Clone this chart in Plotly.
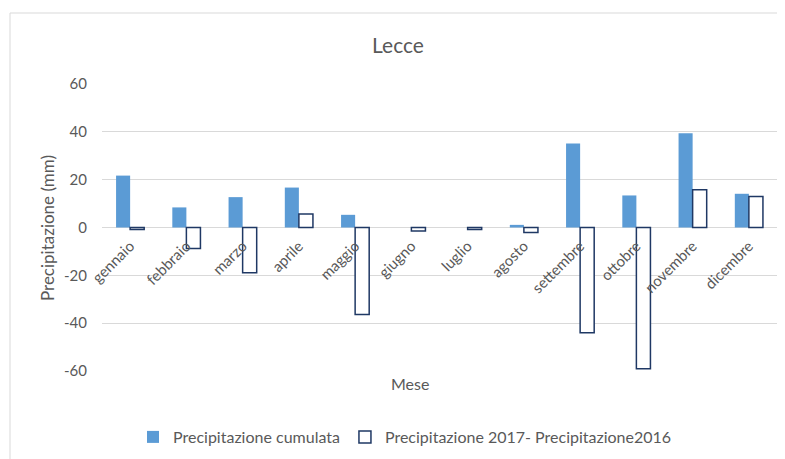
import plotly.graph_objects as go

mesi = ["gennaio", "febbraio", "marzo", "aprile", "maggio", "giugno",
        "luglio", "agosto", "settembre", "ottobre", "novembre", "dicembre"]
cumulata = [21.7, 8.4, 12.7, 16.7, 5.3, 0.0, 0.0, 1.1, 35.1, 13.4, 39.4, 14.1]
differenza = [-0.8, -8.8, -18.9, 5.6, -36.4, -1.5, -0.8, -2.1, -44.0, -59.1, 15.8, 13.0]
y_tick_vals = [-60, -40, -20, 0, 20, 40, 60]
y_tick_text = ["-60", "-40", "-20", "0", "20", "40", "60"]

FONT = "Lato, Open Sans, sans-serif"
GREY = "#595959"

fig = go.Figure()
fig.add_trace(go.Bar(x=mesi, y=cumulata, name="Precipitazione cumulata",
                     marker=dict(color="#5B9BD5", line=dict(width=0))))
fig.add_trace(go.Bar(x=mesi, y=differenza, name="Precipitazione 2017- Precipitazione2016",
                     marker=dict(color="white", line=dict(color="#1F3864", width=1.5))))

OFF = 8  # page body margin
W, H = 785 - OFF, 459 - OFF
# reference page coordinates -> figure coordinates
def fx(px):
    return px - OFF
def fy(py):
    return py - OFF

L = fx(102)
T = fy(84)
R = W - fx(777)
B = H - fy(371)
pw = W - L - R
ph = H - T - B

fig.update_layout(
    width=W, height=H,
    margin=dict(l=L, r=R, t=T, b=B, autoexpand=False),
    paper_bgcolor="white", plot_bgcolor="white",
    font=dict(family=FONT, size=15, color=GREY),
    barmode="group", bargap=0.5, bargroupgap=0,
    title=dict(text="Lecce", x=fx(398) / W, xanchor="center", xref="container",
               y=1 - fy(46) / H, yanchor="middle", yref="container",
               font=dict(size=21, color=GREY, family=FONT)),
    xaxis=dict(anchor="free", position=0.5, tickangle=-45, showgrid=False,
               showline=False, ticks="", automargin=False, ticklabelstandoff=6,
               tickfont=dict(size=15, color=GREY)),
    yaxis=dict(range=[-60, 60], tickvals=y_tick_vals, ticktext=y_tick_text,
               showgrid=True, gridcolor="#d9d9d9", automargin=False,
               gridwidth=1, zeroline=True, zerolinecolor="#d9d9d9", zerolinewidth=1,
               ticks="", ticklabelstandoff=14, tickfont=dict(size=15, color=GREY)),
    legend=dict(orientation="h", x=fx(405) / W, xanchor="center", xref="container",
                y=1 - fy(437) / H, yanchor="middle", yref="container",
                font=dict(size=16, color=GREY), itemwidth=30,
                traceorder="normal"),
    showlegend=True,
)

fig.add_annotation(text="Precipitazione (mm)", xref="paper", yref="paper",
                   x=(fx(47) - L) / pw, y=(H - B - fy(228)) / ph, textangle=-90,
                   showarrow=False, font=dict(size=17, color=GREY, family=FONT),
                   xanchor="center", yanchor="middle")

fig.add_annotation(text="Mese", xref="paper", yref="paper",
                   x=(fx(410) - L) / pw, y=(H - B - fy(383)) / ph,
                   showarrow=False, font=dict(size=16, color=GREY, family=FONT),
                   xanchor="center", yanchor="middle")

fig.add_shape(type="rect", xref="paper", yref="paper", layer="below",
              x0=(fx(10) - L) / pw, x1=(W + 5 - L) / pw,
              y0=(H - B - (H + 5)) / ph, y1=(H - B - fy(13)) / ph,
              line=dict(color="#d9d9d9", width=1), fillcolor="rgba(0,0,0,0)")

fig.write_html("out.html")
